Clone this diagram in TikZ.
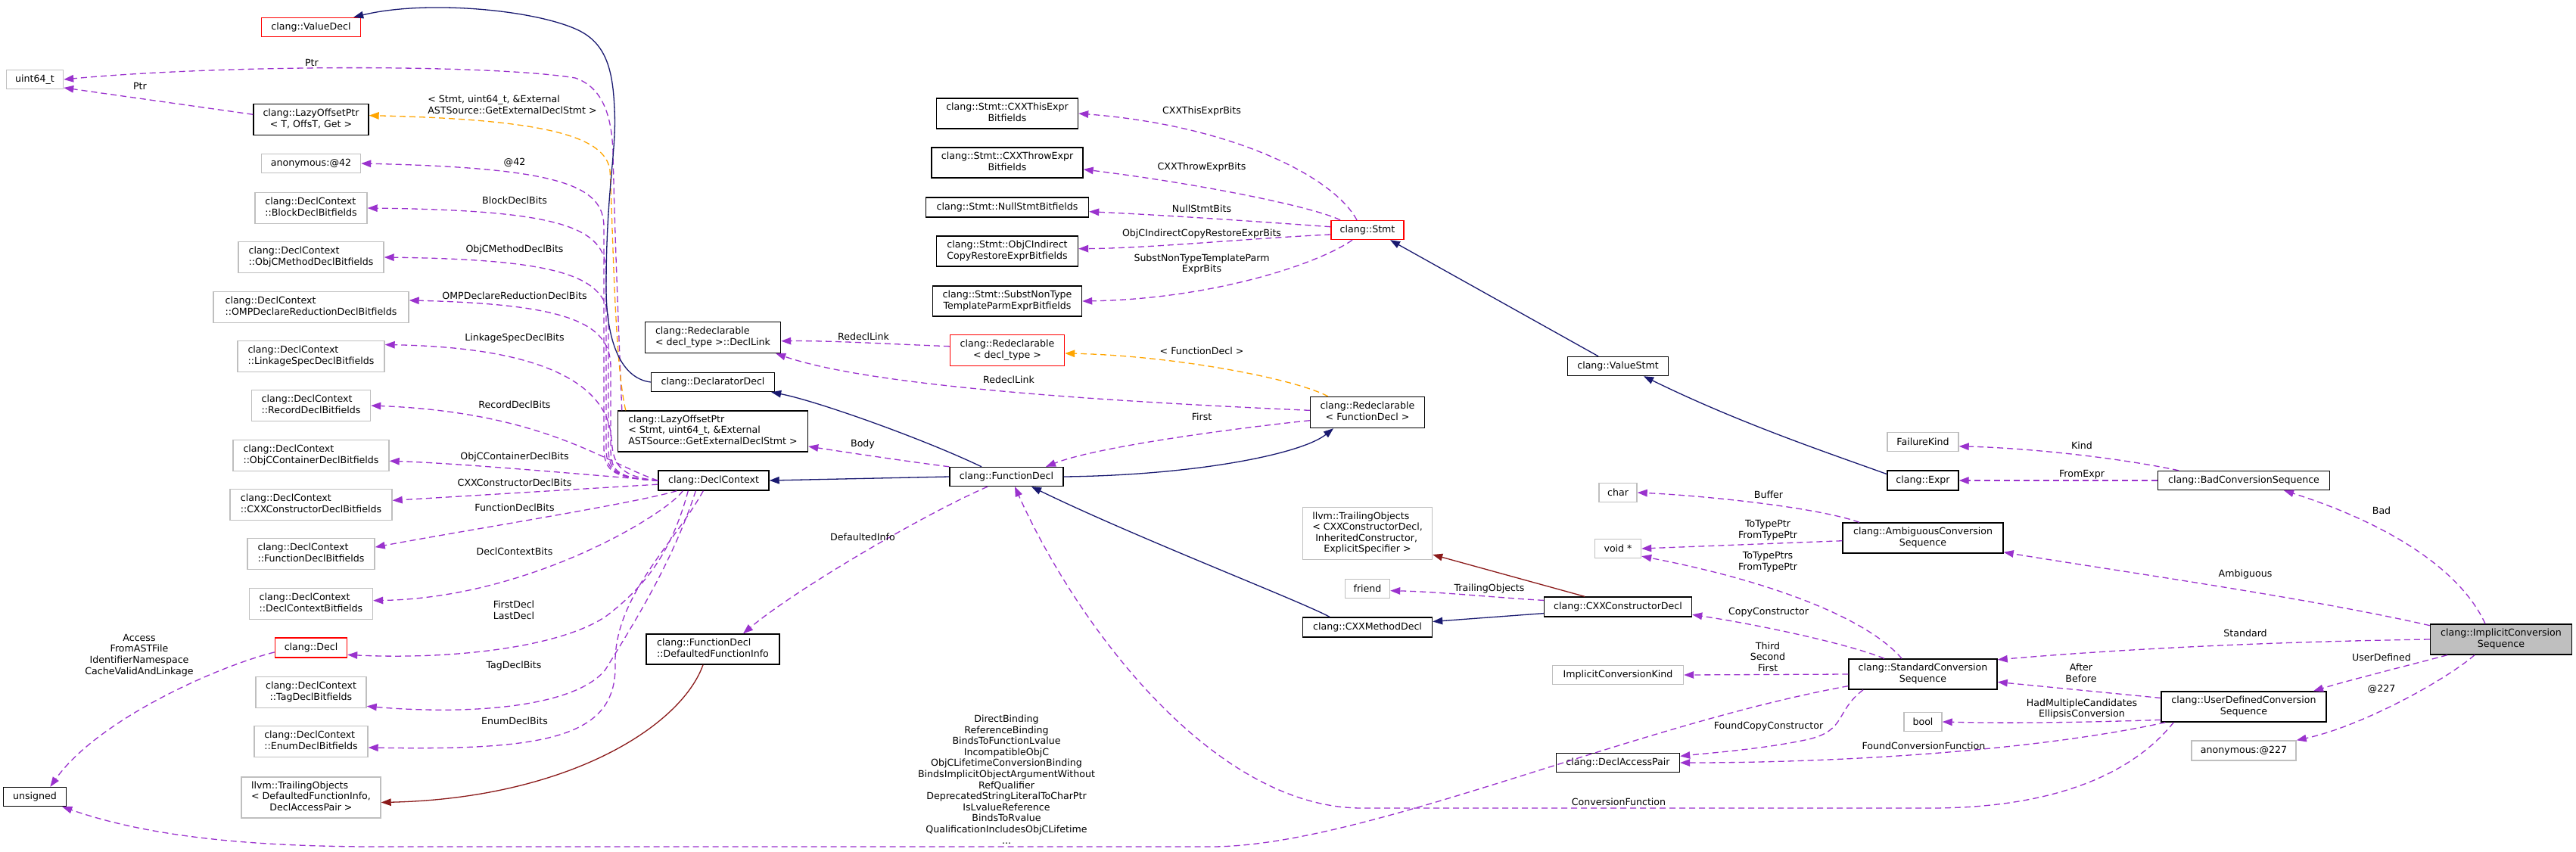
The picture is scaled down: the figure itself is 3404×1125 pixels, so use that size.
\documentclass[tikz,border=0pt]{standalone}
\usepackage{fontspec}
\setmainfont{DejaVu Sans}
\usetikzlibrary{arrows.meta}
\definecolor{purp}{HTML}{9A32CD}
\definecolor{navyc}{HTML}{191970}
\definecolor{dredc}{HTML}{8B1A1A}
\definecolor{orangec}{HTML}{FFA500}
\definecolor{grayb}{HTML}{BFBFBF}
\newcommand{\ml}[2]{\begin{tabular}{@{}l@{}}#1\\\multicolumn{1}{@{}c@{}}{#2}\end{tabular}}
\tikzset{
  nb/.style={draw=black, fill=white, line width=1.4pt, inner sep=0pt, align=center},
  ng/.style={nb, draw=grayb},
  nr/.style={nb, draw=red},
  nsel/.style={nb, fill=grayb},
  wh/.style 2 args={minimum width=#1pt, minimum height=#2pt},
  lb/.style={inner sep=0pt, align=center},
  tipa/.style={-{Triangle[length=13pt,width=9.5pt]}},
  ue/.style={tipa, draw=purp, line width=1.3pt, dash pattern=on 8pt off 5pt},
  ie/.style={tipa, draw=navyc, line width=1.3pt},
  pe/.style={tipa, draw=dredc, line width=1.3pt},
  te/.style={tipa, draw=orangec, line width=1.3pt, dash pattern=on 8pt off 5pt}
}
\begin{document}
\begin{tikzpicture}[x=1pt, y=-1pt, font=\fontsize{12.6}{14.6}\selectfont]
\fill[white] (0,0) rectangle (3404,1125);
\useasboundingbox (0,0) rectangle (3404,1125);

% ---------- nodes: column 1
\node[nr, wh={131}{25}] (ValueDecl) at (411,36) {clang::ValueDecl};
\node[ng, wh={75}{25}] (uint64) at (46,105) {uint64\_t};
\node[nb, wh={152}{41}] (lazy1) at (411,158) {\ml{clang::LazyOffsetPtr}{< T, OffsT, Get >}};
\node[ng, wh={131}{25}] (anon42) at (411,216) {anonymous:@42};
\node[ng, wh={148}{41}] (blockbf) at (411,275) {\ml{clang::DeclContext}{::BlockDeclBitfields}};
\node[ng, wh={192}{41}] (objcmbf) at (411,340) {\ml{clang::DeclContext}{::ObjCMethodDeclBitfields}};
\node[ng, wh={258}{41}] (ompbf) at (411,406) {\ml{clang::DeclContext}{::OMPDeclareReductionDeclBitfields}};
\node[ng, wh={194}{41}] (linkbf) at (411,471) {\ml{clang::DeclContext}{::LinkageSpecDeclBitfields}};
\node[ng, wh={157}{41}] (recbf) at (411,536) {\ml{clang::DeclContext}{::RecordDeclBitfields}};
\node[ng, wh={206}{41}] (objccbf) at (411,602) {\ml{clang::DeclContext}{::ObjCContainerDeclBitfields}};
\node[ng, wh={214}{41}] (cxxcbf) at (411,667) {\ml{clang::DeclContext}{::CXXConstructorDeclBitfields}};
\node[ng, wh={168}{41}] (funcbf) at (411,732) {\ml{clang::DeclContext}{::FunctionDeclBitfields}};
\node[ng, wh={163}{41}] (dcbf) at (411,798) {\ml{clang::DeclContext}{::DeclContextBitfields}};
\node[nr, wh={95}{26}] (decl) at (411,856) {clang::Decl};
\node[ng, wh={146}{41}] (tagbf) at (411,915) {\ml{clang::DeclContext}{::TagDeclBitfields}};
\node[ng, wh={150}{41}] (enumbf) at (411,980) {\ml{clang::DeclContext}{::EnumDeclBitfields}};
\node[ng, wh={184}{54}] (trailDFI) at (411,1054) {\ml{llvm::TrailingObjects\\< DefaultedFunctionInfo,}{DeclAccessPair >}};
\node[nb, wh={83}{25}] (unsigned) at (46,1053) {unsigned};

% ---------- column 2
\node[nb, wh={179}{41}] (DeclLink) at (942,446) {\ml{clang::Redeclarable}{< decl\_type >::DeclLink}};
\node[nb, wh={163}{25}] (DeclaratorDecl) at (942,505) {clang::DeclaratorDecl};
\node[nb, wh={251}{54}] (lazy2) at (942,570) {\ml{clang::LazyOffsetPtr\\< Stmt, uint64\_t, \&External}{ASTSource::GetExternalDeclStmt >}};
\node[nb, wh={146}{26}] (DeclContext) at (943,635) {clang::DeclContext};
\node[nb, wh={176}{40}] (DFI) at (942,858) {\ml{clang::FunctionDecl}{::DefaultedFunctionInfo}};

% ---------- column 3
\node[nb, wh={187}{40}] (CXXThisExpr) at (1331,150) {\ml{clang::Stmt::CXXThisExpr}{Bitfields}};
\node[nb, wh={200}{40}] (CXXThrowExpr) at (1331,215) {\ml{clang::Stmt::CXXThrowExpr}{Bitfields}};
\node[nb, wh={215}{26}] (NullStmt) at (1331,274) {clang::Stmt::NullStmtBitfields};
\node[nb, wh={187}{40}] (ObjCIndirect) at (1331,332) {\ml{clang::Stmt::ObjCIndirect}{CopyRestoreExprBitfields}};
\node[nb, wh={197}{40}] (SubstNT) at (1331,398) {\ml{clang::Stmt::SubstNonType}{TemplateParmExprBitfields}};
\node[nr, wh={151}{41}] (RedeclDT) at (1331,463) {\ml{clang::Redeclarable}{< decl\_type >}};
\node[nb, wh={150}{25}] (FunctionDecl) at (1330,630) {clang::FunctionDecl};

% ---------- column 4
\node[nr, wh={96}{25}] (Stmt) at (1807,304) {clang::Stmt};
\node[nb, wh={151}{41}] (RedeclFD) at (1807,545) {\ml{clang::Redeclarable}{< FunctionDecl >}};
\node[ng, wh={171}{69}] (TrailCXX) at (1807,705) {\ml{llvm::TrailingObjects\\< CXXConstructorDecl,\\\ InheritedConstructor,}{ExplicitSpecifier >}};
\node[ng, wh={59}{25}] (friend) at (1807,778) {friend};
\node[nb, wh={171}{26}] (CXXMethodDecl) at (1807,829) {clang::CXXMethodDecl};

% ---------- column 5
\node[nb, wh={133}{25}] (ValueStmt) at (2138,484) {clang::ValueStmt};
\node[ng, wh={50}{25}] (char) at (2138,651) {char};
\node[ng, wh={61}{25}] (void) at (2138,725) {void *};
\node[nb, wh={195}{26}] (CXXCtor) at (2138,802) {clang::CXXConstructorDecl};
\node[ng, wh={173}{25}] (ICK) at (2138,892) {ImplicitConversionKind};
\node[nb, wh={163}{25}] (DAP) at (2138,1008) {clang::DeclAccessPair};

% ---------- column 6
\node[ng, wh={94}{25}] (FailureKind) at (2541,584) {FailureKind};
\node[nb, wh={94}{26}] (Expr) at (2541,635) {clang::Expr};
\node[nb, wh={212}{40}] (Ambig) at (2541,711) {\ml{clang::AmbiguousConversion}{Sequence}};
\node[nb, wh={196}{40}] (StdConv) at (2541,891) {\ml{clang::StandardConversion}{Sequence}};
\node[ng, wh={50}{25}] (bool) at (2541,954) {bool};

% ---------- column 7
\node[nb, wh={227}{25}] (BadConv) at (2965,635) {clang::BadConversionSequence};
\node[nb, wh={218}{40}] (UDC) at (2965,934) {\ml{clang::UserDefinedConversion}{Sequence}};
\node[ng, wh={138}{26}] (anon227) at (2965,992) {anonymous:@227};
\node[nsel, wh={187}{40}] (ICS) at (3305,845) {\ml{clang::ImplicitConversion}{Sequence}};

% ---------- edges
\draw[ue] (lazy1.175) -- (uint64.-16);
\draw[ue] ([xshift=6pt]lazy2.north west) .. controls (818,450) and (812,300) .. (810,200) .. controls (808,150) and (795,115) .. (760,103) .. controls (650,85) and (300,85) .. (uint64.east);
\draw[te] ([xshift=11pt]lazy2.north west) .. controls (812,480) and (810,300) .. (806,225) .. controls (800,180) and (720,158) .. (lazy1.4);

\draw[ue] (DeclContext.west) .. controls (806,632) and (798,620) .. (798,590) -- (798,300) .. controls (798,245) and (740,222) .. (anon42.east);
\draw[ue] (DeclContext.west) .. controls (808,632) and (801,620) .. (801,590) -- (801,360) .. controls (801,300) and (740,278) .. (blockbf.east);
\draw[ue] (DeclContext.west) .. controls (810,632) and (804,620) .. (804,590) -- (804,425) .. controls (804,365) and (740,343) .. (objcmbf.east);
\draw[ue] (DeclContext.west) .. controls (812,632) and (807,620) .. (807,592) -- (807,485) .. controls (807,425) and (745,402) .. (ompbf.4);
\draw[ue] (DeclContext.west) .. controls (815,630) and (810,610) .. (808,580) .. controls (805,530) and (760,460) .. (linkbf.9);
\draw[ue] (DeclContext.west) .. controls (800,612) and (720,545) .. (recbf.east);
\draw[ue] (DeclContext.west) .. controls (750,625) and (600,612) .. (objccbf.-4);
\draw[ue] (DeclContext.-176) -- (cxxcbf.3);
\draw[ue] ([xshift=25pt]DeclContext.south west) .. controls (840,665) and (620,700) .. (funcbf.6);
\draw[ue] ([xshift=33pt]DeclContext.south west) .. controls (880,680) and (700,790) .. (dcbf.3);
\draw[ue] ([xshift=40pt]DeclContext.south west) .. controls (890,720) and (860,770) .. (800,815) .. controls (740,855) and (600,872) .. (decl.-11);
\draw[ue] ([xshift=50pt]DeclContext.south west) .. controls (890,740) and (840,820) .. (800,885) .. controls (760,935) and (620,945) .. (tagbf.-14);
\draw[ue] ([xshift=60pt]DeclContext.south west) .. controls (890,720) and (810,790) .. (813,880) .. controls (814,975) and (720,992) .. (enumbf.-6);

\draw[ue] (decl.-173) .. controls (290,880) and (130,950) .. (unsigned.33);
\draw[ue] (StdConv.-171) .. controls (2150,960) and (1800,1119) .. (1600,1119) -- (500,1119) .. controls (300,1119) and (180,1100) .. (unsigned.-20);

\draw[ue] (FunctionDecl.north west) .. controls (1200,610) and (1120,598) .. (lazy2.-9);
\draw[ue] ([xshift=-25pt]FunctionDecl.south) .. controls (1220,680) and (1050,780) .. ([xshift=40pt]DFI.north);
\draw[ie] ([xshift=-33pt]FunctionDecl.north) .. controls (1220,580) and (1080,530) .. ([xshift=-5pt]DeclaratorDecl.south east);
\draw[ie] (FunctionDecl.west) -- (DeclContext.east);
\draw[ie] (FunctionDecl.east) .. controls (1580,628) and (1720,600) .. ([xshift=-45pt]RedeclFD.south);

\draw[ue] (RedeclDT.176) .. controls (1180,455) and (1100,450) .. (DeclLink.-3);
\draw[ue] (RedeclFD.178) .. controls (1450,530) and (1150,510) .. ([xshift=-7pt]DeclLink.south east);
\draw[te] ([xshift=24pt]RedeclFD.north west) .. controls (1710,500) and (1550,470) .. (RedeclDT.-3);
\draw[ue] (RedeclFD.-172) .. controls (1640,565) and (1450,590) .. ([xshift=52pt]FunctionDecl.north);

\draw[ie] (DeclaratorDecl.west) .. controls (820,500) and (801,450) .. (801,380) .. controls (801,250) and (815,200) .. (812,145) .. controls (810,90) and (800,55) .. (760,38) .. controls (700,12) and (560,0) .. ([xshift=-10pt]ValueDecl.north east);

\draw[pe] ([xshift=-13pt]DFI.south) .. controls (900,960) and (750,1055) .. (trailDFI.-4);

\draw[ue] ([xshift=-14pt]Stmt.north) .. controls (1760,230) and (1620,165) .. (CXXThisExpr.east);
\draw[ue] ([xshift=-36pt]Stmt.north) .. controls (1740,275) and (1600,245) .. (CXXThrowExpr.-5);
\draw[ue] (Stmt.175) .. controls (1650,292) and (1550,285) .. (NullStmt.-3);
\draw[ue] (Stmt.-173) .. controls (1650,315) and (1520,328) .. (ObjCIndirect.2);
\draw[ue] ([xshift=-20pt]Stmt.south) .. controls (1740,350) and (1600,395) .. (SubstNT.east);

\draw[ie] ([xshift=-26pt]ValueStmt.north) -- ([xshift=30pt]Stmt.south);
\draw[ie] (Expr.170) .. controls (2420,600) and (2300,560) .. ([xshift=34pt]ValueStmt.south);

\draw[ie] ([xshift=-50pt]CXXMethodDecl.north) .. controls (1720,795) and (1500,710) .. ([xshift=33pt]FunctionDecl.south);
\draw[ie] (CXXCtor.-175) -- (CXXMethodDecl.5);
\draw[pe] ([xshift=-44pt]CXXCtor.north) -- (TrailCXX.-18);
\draw[ue] (CXXCtor.175) .. controls (1980,790) and (1900,782) .. (friend.-5);

\draw[ue] ([xshift=-84pt]Ambig.north) .. controls (2400,670) and (2250,655) .. (char.east);
\draw[ue] (Ambig.-178) -- (void.east);

\draw[ue] ([xshift=-28pt]StdConv.north) .. controls (2470,820) and (2350,770) .. (void.-18);
\draw[ue] ([xshift=-51pt]StdConv.north) .. controls (2440,850) and (2320,825) .. (CXXCtor.-6);
\draw[ue] (StdConv.west) -- (ICK.east);
\draw[ue] ([xshift=-79pt]StdConv.south) .. controls (2425,940) and (2440,965) .. (2390,977) .. controls (2330,990) and (2260,995) .. (DAP.6);

\draw[ue] ([xshift=6pt]UDC.south west) .. controls (2700,990) and (2450,1008) .. (DAP.east);
\draw[ue] ([xshift=17pt]UDC.south west) .. controls (2820,1020) and (2720,1068) .. (2550,1068) -- (1800,1068) .. controls (1600,1068) and (1420,820) .. ([xshift=11pt]FunctionDecl.south);
\draw[ue] (UDC.174) -- (StdConv.-6);
\draw[ue] (UDC.-171) .. controls (2750,955) and (2650,956) .. (bool.east);

\draw[ue] ([xshift=-86pt]BadConv.north) .. controls (2800,605) and (2680,592) .. (FailureKind.-7);
\draw[ue] (BadConv.west) -- (Expr.east);

\draw[ue] ([xshift=-21pt]ICS.north) .. controls (3250,750) and (3150,690) .. ([xshift=53pt]BadConv.south);
\draw[ue] (ICS.169) .. controls (3050,790) and (2800,755) .. (Ambig.-10);
\draw[ue] (ICS.west) .. controls (3000,848) and (2800,858) .. (StdConv.11);
\draw[ue] ([xshift=-71pt]ICS.south) .. controls (3180,880) and (3100,900) .. ([xshift=92pt]UDC.north);
\draw[ue] ([xshift=-35pt]ICS.south) .. controls (3230,900) and (3120,960) .. (anon227.north east);

% ---------- edge labels
\node[lb] (lPtrA) at (185,114) {Ptr};
\node[lb] (lPtrB) at (412,83) {Ptr};
\node[lb] (lTmpl) at (677,140) {\ml{< Stmt, uint64\_t, \&External}{ASTSource::GetExternalDeclStmt >}};
\node[lb] (l42) at (680,215) {@42};
\node[lb] (lBlock) at (680,265) {BlockDeclBits};
\node[lb] (lObjCM) at (680,330) {ObjCMethodDeclBits};
\node[lb] (lOMP) at (680,391) {OMPDeclareReductionDeclBits};
\node[lb] (lLink) at (680,447) {LinkageSpecDeclBits};
\node[lb] (lRec) at (680,535) {RecordDeclBits};
\node[lb] (lObjCC) at (680,604) {ObjCContainerDeclBits};
\node[lb] (lCXXC) at (680,638) {CXXConstructorDeclBits};
\node[lb] (lFunc) at (680,671) {FunctionDeclBits};
\node[lb] (lDC) at (680,729) {DeclContextBits};
\node[lb] (lFirstLast) at (679,806) {FirstDecl\\LastDecl};
\node[lb] (lTag) at (679,880) {TagDeclBits};
\node[lb] (lEnum) at (680,953) {EnumDeclBits};
\node[lb] (lAccess) at (184,866) {Access\\FromASTFile\\IdentifierNamespace\\CacheValidAndLinkage};
\node[lb] (lBits) at (1330,1030) {DirectBinding\\ReferenceBinding\\BindsToFunctionLvalue\\IncompatibleObjC\\ObjCLifetimeConversionBinding\\BindsImplicitObjectArgumentWithout\\RefQualifier\\DeprecatedStringLiteralToCharPtr\\IsLvalueReference\\BindsToRvalue\\QualificationIncludesObjCLifetime\\...};
\node[lb] (lBody) at (1140,587) {Body};
\node[lb] (lDefInfo) at (1140,710) {DefaultedInfo};
\node[lb] (lRedA) at (1141,445) {RedeclLink};
\node[lb] (lRedB) at (1333,502) {RedeclLink};
\node[lb] (lFD) at (1588,464) {< FunctionDecl >};
\node[lb] (lFirst) at (1588,551) {First};
\node[lb] (lThis) at (1588,147) {CXXThisExprBits};
\node[lb] (lThrow) at (1588,221) {CXXThrowExprBits};
\node[lb] (lNull) at (1588,276) {NullStmtBits};
\node[lb] (lObjCI) at (1588,309) {ObjCIndirectCopyRestoreExprBits};
\node[lb] (lSubst) at (1588,349) {SubstNonTypeTemplateParm\\ExprBits};
\node[lb] (lTrail) at (1968,778) {TrailingObjects};
\node[lb] (lBuffer) at (2337,654) {Buffer};
\node[lb] (lToType) at (2336,701) {ToTypePtr\\FromTypePtr};
\node[lb] (lToTypes) at (2336,743) {ToTypePtrs\\FromTypePtr};
\node[lb] (lCopy) at (2337,809) {CopyConstructor};
\node[lb] (lTSF) at (2336,868) {Third\\Second\\First};
\node[lb] (lFoundCC) at (2337,960) {FoundCopyConstructor};
\node[lb] (lFoundCF) at (2542,986) {FoundConversionFunction};
\node[lb] (lConvF) at (2139,1060) {ConversionFunction};
\node[lb] (lKind) at (2751,589) {Kind};
\node[lb] (lFromExpr) at (2751,627) {FromExpr};
\node[lb] (lBad) at (3147,675) {Bad};
\node[lb] (lAmb) at (2967,759) {Ambiguous};
\node[lb] (lStd) at (2967,837) {Standard};
\node[lb] (lUD) at (3147,869) {UserDefined};
\node[lb] (l227) at (3147,911) {@227};
\node[lb] (lAfter) at (2750,889) {After\\Before};
\node[lb] (lHad) at (2751,937) {HadMultipleCandidates\\EllipsisConversion};
\end{tikzpicture}
\end{document}
